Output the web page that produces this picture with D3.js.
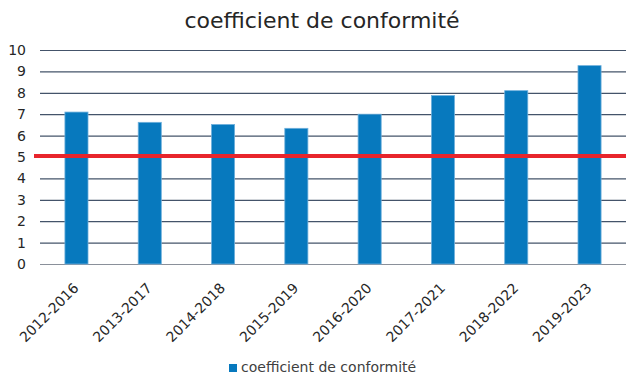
<!DOCTYPE html>
<html>
<head>
<meta charset="utf-8">
<script src="https://cdn.jsdelivr.net/npm/d3@7"></script>
<style>
  body { margin: 0; background: #fff; }
  svg { display: block; font-family: "DejaVu Sans", Verdana, sans-serif; }
</style>
</head>
<body>
<svg id="chart" width="626" height="381"></svg>
<script>
// Conformity coefficient per five-year period
const periods = ["2012-2016", "2013-2017", "2014-2018", "2015-2019", "2016-2020", "2017-2021", "2018-2022", "2019-2023"];
const coefficient = [7.1, 6.62, 6.52, 6.34, 7.0, 7.87, 8.1, 9.27];
const threshold = 5.05;
const yTicks = [0, 1, 2, 3, 4, 5, 6, 7, 8, 9, 10];
const titleText = "coefficient de conformité";
const seriesName = "coefficient de conformité";

const svg = d3.select("#chart");
const margin = { top: 50, right: 0, bottom: 117, left: 40 };
const width = 626, height = 381;

const x = d3.scaleBand()
  .domain(periods)
  .range([margin.left, width - margin.right])
  .paddingInner(0.685)
  .paddingOuter(0.34);

const y = d3.scaleLinear()
  .domain([0, 10])
  .range([height - margin.bottom, margin.top]);

// Title
svg.append("text")
  .attr("x", 322).attr("y", 28)
  .attr("text-anchor", "middle")
  .attr("font-size", 22)
  .attr("fill", "#262626")
  .text(titleText);

// Horizontal gridlines
svg.append("g")
  .selectAll("line")
  .data(yTicks)
  .join("line")
  .attr("x1", margin.left).attr("x2", width - margin.right)
  .attr("y1", d => y(d) + 0.5).attr("y2", d => y(d) + 0.5)
  .attr("stroke", d => d === 0 ? "#8a909a" : "#44546a")
  .attr("stroke-width", 1.2);

// Y axis labels
const yAxis = d3.axisLeft(y).tickValues(yTicks).tickSize(0).tickPadding(0);
svg.append("g")
  .attr("transform", `translate(${margin.left - 14},0)`)
  .call(yAxis)
  .call(g => g.select(".domain").remove())
  .call(g => g.selectAll("text")
    .attr("font-family", "DejaVu Sans, Verdana, sans-serif")
    .attr("font-size", 14)
    .attr("fill", "#262626"));

// Bars
svg.append("g")
  .selectAll("rect")
  .data(periods.map((p, i) => ({ p, v: coefficient[i] })))
  .join("rect")
  .attr("x", d => x(d.p))
  .attr("y", d => y(d.v))
  .attr("width", x.bandwidth())
  .attr("height", d => y(0) - y(d.v))
  .attr("fill", "#0779be")
  .attr("stroke", "#6fb0dc")
  .attr("stroke-width", 0.8);

// Threshold line
svg.append("line")
  .attr("x1", margin.left - 6).attr("x2", width)
  .attr("y1", y(threshold)).attr("y2", y(threshold))
  .attr("stroke", "#e8252c")
  .attr("stroke-width", 4);

// X axis labels, rotated
const xAxis = d3.axisBottom(x).tickSize(0).tickPadding(0);
svg.append("g")
  .attr("transform", `translate(0,${y(0)})`)
  .call(xAxis)
  .call(g => g.select(".domain").remove())
  .call(g => g.selectAll("text")
    .attr("font-family", "DejaVu Sans, Verdana, sans-serif")
    .attr("font-size", 14)
    .attr("fill", "#262626")
    .attr("text-anchor", "end")
    .attr("dy", 0)
    .attr("transform", "translate(3,25) rotate(-45)"));

// Legend
const legend = svg.append("g").attr("transform", "translate(229,368)");
legend.append("rect")
  .attr("x", 0).attr("y", -4).attr("width", 8).attr("height", 8)
  .attr("fill", "#0779be");
legend.append("text")
  .attr("x", 12).attr("y", 4)
  .attr("font-size", 14)
  .attr("fill", "#404040")
  .text(seriesName);
</script>
</body>
</html>
